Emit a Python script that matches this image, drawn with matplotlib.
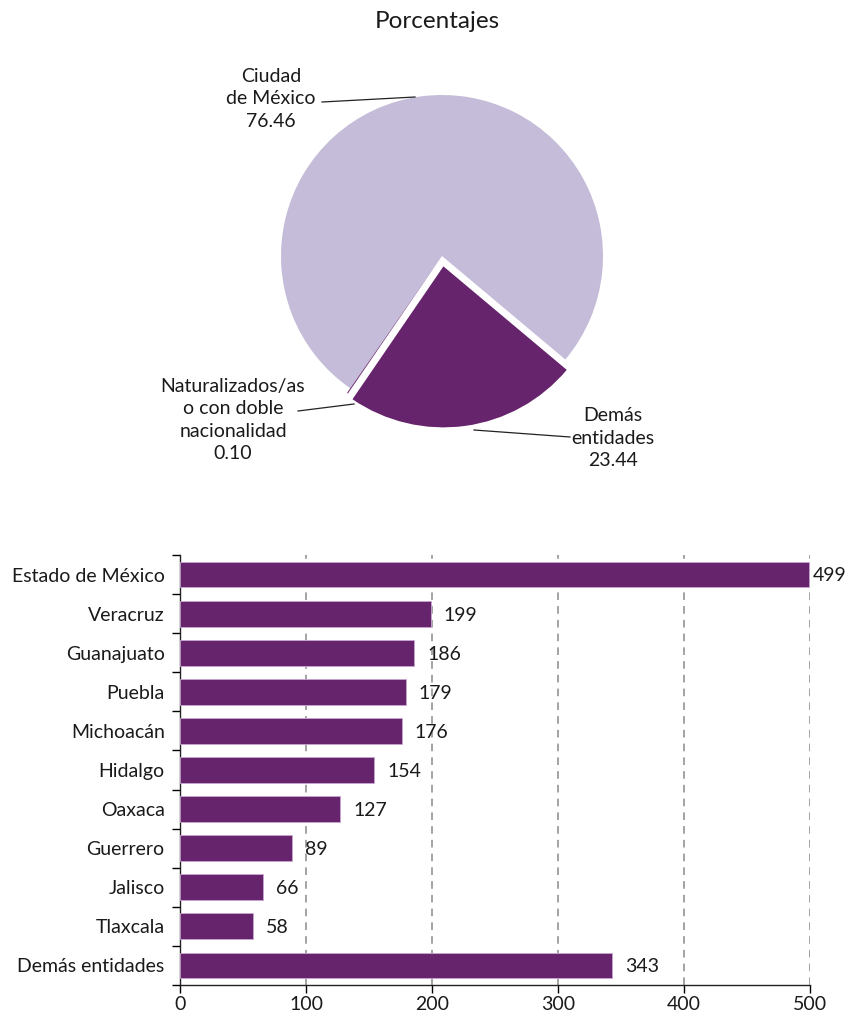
import matplotlib
matplotlib.use("Agg")
import matplotlib.pyplot as plt
import numpy as np

plt.rcParams['font.family'] = ['Lato', 'DejaVu Sans']

# ---- data ----
pie_labels = ["Ciudad\nde México", "Naturalizados/as\no con doble\nnacionalidad", "Demás\nentidades"]
pie_values = [76.46, 0.10, 23.44]

bar_categories = ["Estado de México", "Veracruz", "Guanajuato", "Puebla", "Michoacán",
                  "Hidalgo", "Oaxaca", "Guerrero", "Jalisco", "Tlaxcala", "Demás entidades"]
bar_values = [499, 199, 186, 179, 176, 154, 127, 89, 66, 58, 343]
x_ticks = [0, 100, 200, 300, 400, 500]

light = "#C4BCD8"
dark = "#66246C"
txt = "#1a1a1a"

W, H = 850, 1019
fig = plt.figure(figsize=(W / 100, H / 100), dpi=100)

def px_rect(x0, y0, x1, y1):
    return [x0 / W, (H - y1) / H, (x1 - x0) / W, (y1 - y0) / H]

fig.text(437 / W, 1 - 21 / H, "Porcentajes", ha="center", va="center", fontsize=17.5, color=txt)

# ---- pie ----
R = 161.0
cx, cy = 442, 256
ax1 = fig.add_axes(px_rect(cx - 342, cy - 220, cx + 342, cy + 220))
wedges, _ = ax1.pie(pie_values, colors=[light, dark, dark], startangle=-40,
                    counterclock=True, explode=[0, 0.035, 0.065],
                    wedgeprops=dict(linewidth=0))
ax1.set_xlim(-342 / R, 342 / R)
ax1.set_ylim(-220 / R, 220 / R)
ax1.set_aspect("equal")
ax1.axis("off")

def to_data(px, py):
    return ((px - cx) / R, -(py - cy) / R)

fs = 14
ls = 1.38
# Ciudad de México
ax1.plot(*zip(to_data(322, 102), to_data(415, 97)), color="#222222", lw=0.9)
tx, ty = to_data(271, 99)
ax1.text(tx, ty, pie_labels[0] + "\n" + f"{pie_values[0]:.2f}", ha="center", va="center",
         fontsize=fs, linespacing=ls, color=txt)
# Naturalizados
ax1.plot(*zip(to_data(298, 411), to_data(354, 404)), color="#222222", lw=0.9)
tx, ty = to_data(233, 420)
ax1.text(tx, ty, pie_labels[1] + "\n" + f"{pie_values[1]:.2f}", ha="center", va="center",
         fontsize=fs, linespacing=ls, color=txt)
# Demás entidades
ax1.plot(*zip(to_data(474, 430), to_data(570, 437)), color="#222222", lw=0.9)
tx, ty = to_data(613, 438)
ax1.text(tx, ty, pie_labels[2] + "\n" + f"{pie_values[2]:.2f}", ha="center", va="center",
         fontsize=fs, linespacing=ls, color=txt)

# ---- bars ----
ax2 = fig.add_axes(px_rect(180, 555, 810, 985))
y = np.arange(len(bar_categories))
ax2.barh(y, bar_values, height=0.66, color=dark, edgecolor="#C9A6D2", linewidth=0.6, zorder=3)
ax2.set_xlim(0, 500)
ax2.set_ylim(len(bar_categories) - 0.5, -0.5)
ax2.set_yticks(y)
ax2.set_yticklabels(bar_categories, fontsize=14, color=txt)
ax2.set_yticks(np.arange(-0.5, len(bar_categories)), minor=True)
ax2.tick_params(axis="y", which="major", length=0, pad=11)
ax2.tick_params(axis="y", which="minor", length=6, width=1, direction="out")
ax2.set_xticks(x_ticks)
ax2.set_xticklabels([str(t) for t in x_ticks], fontsize=14, color=txt)
ax2.tick_params(axis="x", length=6, width=1, direction="out", pad=2)
for s in ["top", "right"]:
    ax2.spines[s].set_visible(False)
for s in ["left", "bottom"]:
    ax2.spines[s].set_linewidth(1.0)
    ax2.spines[s].set_color("#222222")
ax2.set_axisbelow(True)
for t in x_ticks[1:]:
    ax2.axvline(t, color="#8a8a8a", lw=1.1, ls=(0, (5, 4)), zorder=1)

for yi, v in zip(y, bar_values):
    off = 4 if v >= 495 else 13
    ax2.annotate(str(v), (v, yi), xytext=(off * 0.72, -1), textcoords="offset points",
                 ha="left", va="center", fontsize=14, color=txt)

fig.savefig("out.png", dpi=100)
